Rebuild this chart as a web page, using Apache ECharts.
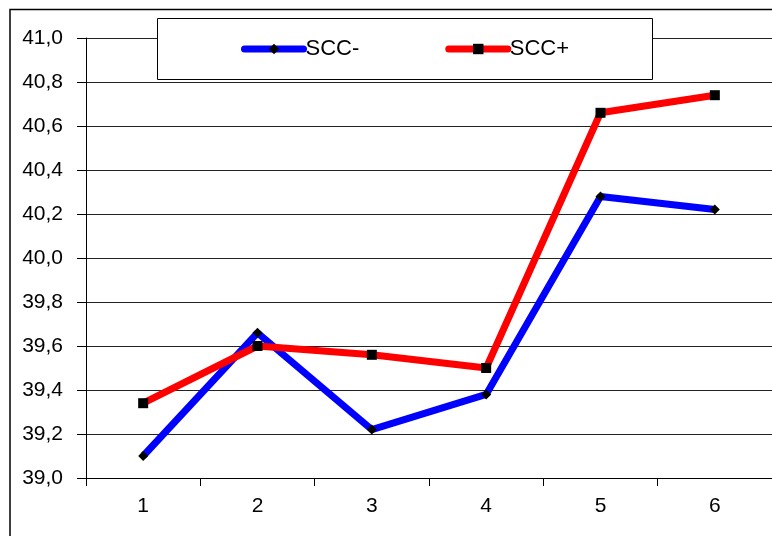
<!DOCTYPE html>
<html>
<head>
<meta charset="utf-8">
<script src="https://cdn.jsdelivr.net/npm/echarts@6/dist/echarts.min.js"></script>
<style>
  html, body { margin: 0; padding: 0; background: #fff; }
  #chart { width: 772px; height: 536px; }
</style>
</head>
<body>
<div id="chart"></div>
<script>
// Categories along the x axis
const categories = ['1', '2', '3', '4', '5', '6'];
// Series values
const sccMinus = [39.10, 39.66, 39.22, 39.38, 40.28, 40.22];
const sccPlus = [39.34, 39.60, 39.56, 39.50, 40.66, 40.74];
const seriesNames = ['SCC-', 'SCC+'];
// Value axis range
const yMin = 39.0;
const yMax = 41.0;
const yStep = 0.2;

const FONT = '"Liberation Sans", Arial, sans-serif';

const chart = echarts.init(document.getElementById('chart'), null, { renderer: 'canvas' });

chart.setOption({
  animation: false,
  backgroundColor: '#fff',
  grid: { left: 86, right: -4, top: 38, bottom: 58 },
  graphic: [
    {
      type: 'rect',
      z: 1,
      silent: true,
      shape: { x: 10, y: 9.5, width: 800, height: 600 },
      style: { fill: 'none', stroke: '#000', lineWidth: 1.5 }
    },
    {
      type: 'rect',
      z: 3,
      silent: true,
      shape: { x: 157.5, y: 18.5, width: 495, height: 61 },
      style: { fill: '#fff', stroke: '#000', lineWidth: 1 }
    }
  ],
  legend: {
    left: 241,
    top: 38,
    z: 5,
    itemWidth: 59,
    itemHeight: 13,
    itemGap: 86,
    padding: 0,
    data: seriesNames,
    lineStyle: { width: 7, cap: 'round' },
    textStyle: { fontFamily: FONT, fontSize: 22, color: '#000', padding: [0, 0, 0, -3] }
  },
  xAxis: {
    type: 'category',
    data: categories,
    boundaryGap: true,
    axisLine: { show: true, lineStyle: { color: '#000', width: 1 } },
    axisTick: { show: true, length: 8, inside: false, lineStyle: { color: '#000' } },
    axisLabel: { fontFamily: FONT, fontSize: 21, color: '#000', margin: 18 },
    splitLine: { show: false }
  },
  yAxis: {
    type: 'value',
    min: yMin,
    max: yMax,
    interval: yStep,
    axisLine: { show: true, lineStyle: { color: '#000', width: 1 } },
    axisTick: { show: true, length: 9, inside: false, lineStyle: { color: '#000' } },
    axisLabel: {
      fontFamily: FONT, fontSize: 21, color: '#000', margin: 23,
      formatter: v => v.toFixed(1).replace('.', ',')
    },
    splitLine: { show: true, lineStyle: { color: '#222', width: 1 } }
  },
  series: [
    {
      name: seriesNames[0],
      type: 'line',
      data: sccMinus,
      symbol: 'diamond',
      symbolSize: 10,
      z: 2,
      lineStyle: { color: '#0000ff', width: 7 },
      itemStyle: { color: '#000' }
    },
    {
      name: seriesNames[1],
      type: 'line',
      data: sccPlus,
      symbol: 'rect',
      symbolSize: 10,
      z: 2,
      lineStyle: { color: '#ff0000', width: 7 },
      itemStyle: { color: '#000' }
    }
  ]
});
</script>
</body>
</html>
